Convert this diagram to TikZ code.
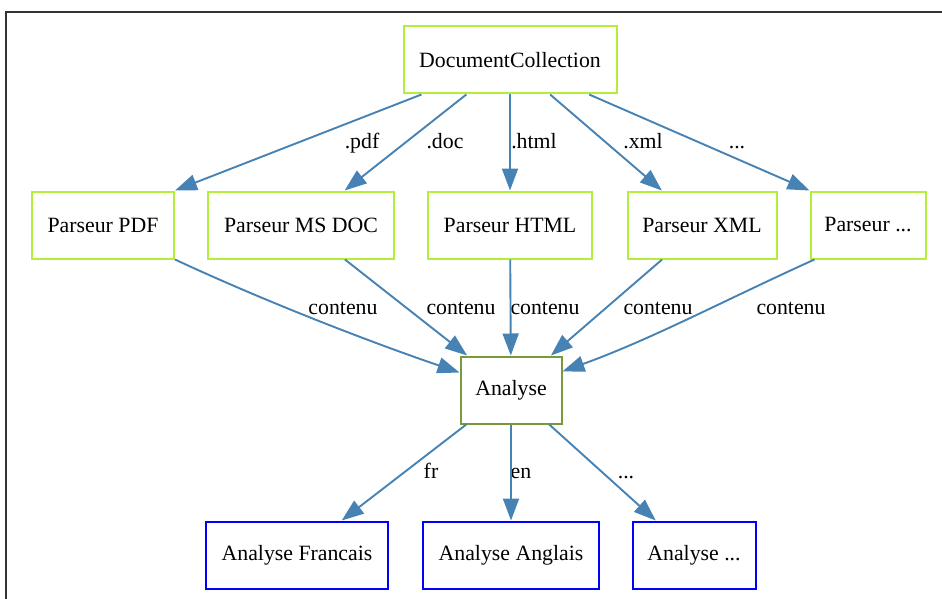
\documentclass[tikz,border=0pt]{standalone}
\usepackage{fontspec}
\setmainfont{Liberation Serif}
\usetikzlibrary{arrows.meta}
\definecolor{parsgreen}{HTML}{B3EE3A}
\definecolor{anagreen}{HTML}{7A9A3A}
\definecolor{edgeblue}{HTML}{4682B4}

\begin{document}
\begin{tikzpicture}[
x=1pt,y=-1pt,
box/.style={
  draw,
  rectangle,
  line width=2pt,
  minimum height=67pt,
  inner sep=0pt,
  font=\fontsize{21.8}{26}\selectfont
  },
coll/.style={box, draw=parsgreen},
parser/.style={box, draw=parsgreen},
ana/.style={box, draw=anagreen},
lang/.style={box, draw=blue},
lbl/.style={
  inner sep=0pt,
  anchor=base,
  font=\fontsize{21.8}{26}\selectfont
  },
conn/.style={
  draw=edgeblue,
  line width=1.9pt,
  -{Triangle[length=22pt,width=16pt]}
  },
frame/.style={draw=black!80, line width=1.3pt}
]
\useasboundingbox (0,0) rectangle (942,599);
\draw[frame] (6,599) -- (6,12) -- (942,12);

% nodes
\node[coll, minimum width=213pt] (collection) at (510,60) {DocumentCollection};
\node[parser, minimum width=142pt] (ppdf) at (103,225) {Parseur PDF};
\node[parser, minimum width=186pt] (pdoc) at (301,225) {Parseur MS DOC};
\node[parser, minimum width=164pt] (phtml) at (510,225) {Parseur HTML};
\node[parser, minimum width=149pt] (pxml) at (702,225) {Parseur XML};
\node[parser, minimum width=115pt] (pdots) at (868,225) {Parseur ...};
\node[ana, minimum width=101pt] (analyse) at (511,390) {Analyse};
\node[lang, minimum width=182pt] (afr) at (297,555) {Analyse Francais};
\node[lang, minimum width=176pt] (aen) at (511,555) {Analyse Anglais};
\node[lang, minimum width=123pt] (adots) at (694,555) {Analyse ...};

% labels (on the baseline)
\node[lbl] (lpdf) at (362,149) {.pdf};
\node[lbl] (ldoc) at (445,149) {.doc};
\node[lbl] (lhtml) at (534,149) {.html};
\node[lbl] (lxml) at (643,149) {.xml};
\node[lbl] (ldots) at (737,149) {...};
\node[lbl] (c1) at (343,314) {contenu};
\node[lbl] (c2) at (461,314) {contenu};
\node[lbl] (c3) at (545,314) {contenu};
\node[lbl] (c4) at (658,314) {contenu};
\node[lbl] (c5) at (791,314) {contenu};
\node[lbl] (lfr) at (431,478) {fr};
\node[lbl] (len) at (521,478) {en};
\node[lbl] (ldotsb) at (626,478) {...};

% edges
\draw[conn] (collection) -- (ppdf.north east);
\draw[conn] (collection) -- (pdoc);
\draw[conn] (collection) -- (phtml);
\draw[conn] (collection) -- (pxml);
\draw[conn] (collection) -- (pdots.north west);
\draw[conn] (ppdf.south east) .. controls (264,301) and (370,342) .. (analyse);
\draw[conn] (pdoc) -- (analyse);
\draw[conn] (phtml) -- (analyse);
\draw[conn] (pxml) -- (analyse);
\draw[conn] ([xshift=5pt]pdots.south west) .. controls (725,300) and (652,339) .. (analyse);
\foreach \a in {afr,aen,adots}
  \draw[conn] (analyse) -- (\a);
\end{tikzpicture}
\end{document}
